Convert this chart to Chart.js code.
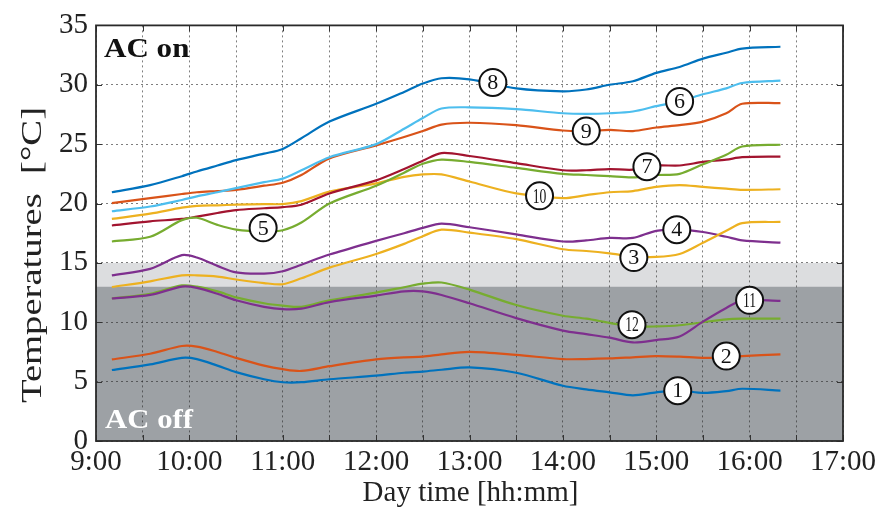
<!DOCTYPE html>
<html><head><meta charset="utf-8">
<script src="https://cdn.jsdelivr.net/npm/chart.js@4/dist/chart.umd.min.js"></script>
<style>html,body{margin:0;padding:0;background:#fff;}canvas{display:block;}</style>
</head><body>
<canvas id="c" width="890" height="509"></canvas>
<script>
// Time of day in decimal hours
const times = [9.17, 9.58, 9.92, 10.08, 10.3, 10.5, 10.8, 11.0, 11.2, 11.5, 12.0, 12.3, 12.5, 12.7, 13.0, 13.5, 14.0, 14.25, 14.5, 14.75, 15.0, 15.25, 15.5, 15.75, 15.92, 16.33];
// Temperatures [°C] per sensor
const s1  = [5.98, 6.45, 7.0, 6.9, 6.35, 5.8, 5.2, 4.95, 4.95, 5.2, 5.5, 5.75, 5.85, 6.0, 6.2, 5.75, 4.65, 4.35, 4.1, 3.85, 4.1, 4.25, 4.05, 4.2, 4.4, 4.25];
const s2  = [6.87, 7.35, 8.0, 7.95, 7.5, 7.0, 6.35, 6.05, 5.9, 6.3, 6.87, 7.05, 7.1, 7.3, 7.5, 7.25, 6.9, 6.9, 6.95, 7.05, 7.15, 7.1, 7.0, 7.05, 7.15, 7.3];
const s3  = [12.97, 13.45, 13.95, 13.95, 13.85, 13.6, 13.3, 13.2, 13.7, 14.6, 15.75, 16.6, 17.25, 17.8, 17.55, 17.0, 16.15, 16.0, 15.8, 15.55, 15.5, 15.75, 16.7, 17.7, 18.35, 18.45];
const s4  = [13.95, 14.5, 15.65, 15.45, 14.75, 14.2, 14.1, 14.3, 14.85, 15.7, 16.85, 17.5, 17.95, 18.3, 18.0, 17.4, 16.8, 16.9, 17.1, 17.1, 17.7, 17.8, 17.6, 17.2, 16.9, 16.7];
const s5  = [16.8, 17.2, 18.6, 18.8, 18.2, 17.8, 17.65, 17.75, 18.4, 20.0, 21.5, 22.6, 23.35, 23.7, 23.5, 23.0, 22.5, 22.4, 22.3, 22.2, 22.4, 22.5, 23.3, 24.1, 24.8, 24.95];
const s6  = [19.35, 19.75, 20.3, 20.6, 20.95, 21.3, 21.8, 22.1, 22.8, 23.9, 25.0, 26.3, 27.2, 28.0, 28.1, 27.95, 27.6, 27.55, 27.6, 27.75, 28.2, 28.6, 29.2, 29.7, 30.15, 30.35];
const s7  = [18.15, 18.5, 18.7, 18.9, 19.2, 19.45, 19.6, 19.7, 19.9, 20.85, 21.95, 22.9, 23.6, 24.25, 24.0, 23.4, 22.8, 22.8, 22.9, 22.85, 23.2, 23.2, 23.5, 23.7, 23.9, 23.95];
const s8  = [20.95, 21.55, 22.3, 22.7, 23.2, 23.65, 24.2, 24.6, 25.5, 26.9, 28.4, 29.4, 30.1, 30.55, 30.45, 29.7, 29.45, 29.6, 30.0, 30.3, 31.0, 31.5, 32.2, 32.7, 33.05, 33.2];
const s9  = [20.03, 20.45, 20.8, 20.95, 21.05, 21.15, 21.5, 21.75, 22.4, 23.8, 24.9, 25.6, 26.1, 26.65, 26.8, 26.6, 26.15, 26.1, 26.2, 26.1, 26.4, 26.6, 26.9, 27.6, 28.4, 28.45];
const s10 = [18.7, 19.15, 19.65, 19.8, 19.85, 19.9, 19.95, 19.95, 20.2, 21.0, 21.7, 22.25, 22.45, 22.45, 21.85, 20.85, 20.45, 20.7, 20.95, 21.05, 21.4, 21.55, 21.4, 21.25, 21.15, 21.2];
const s11 = [12.0, 12.3, 13.0, 12.9, 12.4, 11.85, 11.3, 11.1, 11.15, 11.7, 12.25, 12.6, 12.6, 12.3, 11.6, 10.35, 9.3, 9.0, 8.7, 8.3, 8.5, 8.8, 10.05, 11.2, 11.85, 11.8];
const s12 = [12.0, 12.4, 13.1, 13.0, 12.6, 12.1, 11.6, 11.4, 11.3, 11.85, 12.5, 12.95, 13.25, 13.35, 12.75, 11.45, 10.55, 10.3, 9.95, 9.65, 9.65, 9.75, 10.0, 10.25, 10.3, 10.3];
const seriesValues = [s1, s2, s3, s4, s5, s6, s7, s8, s9, s10, s11, s12];
// Circled sensor labels: number, time, temperature
const labelNums = ['8', '6', '9', '7', '10', '5', '4', '3', '11', '12', '2', '1'];
const labelTimes = [13.25, 15.25, 14.25, 14.9, 13.75, 10.79, 15.22, 14.76, 16.0, 14.74, 15.75, 15.23];
const labelTemps = [30.2, 28.6, 26.1, 23.1, 20.65, 17.95, 17.8, 15.45, 11.85, 9.8, 7.15, 4.24];
// Bands: AC off below 13 °C, transition up to 15 °C
const bandLimits = [0, 13, 15];
// Axis ranges
const xRange = [9, 17];
const yRange = [0, 35];

const colors = ['#0072BD', '#D95319', '#EDB120', '#7E2F8E', '#77AC30', '#4DBEEE', '#A2142F', '#0072BD', '#D95319', '#EDB120', '#7E2F8E', '#77AC30'];
const SERIF = "'Liberation Serif', 'Times New Roman', serif";

const decor = {
  id: 'decor',
  beforeDraw(chart) {
    const {ctx, chartArea: a, scales: {y}} = chart;
    const y0 = y.getPixelForValue(bandLimits[0]);
    const y1 = y.getPixelForValue(bandLimits[1]);
    const y2 = y.getPixelForValue(bandLimits[2]);
    ctx.save();
    ctx.fillStyle = '#dcdddf';
    ctx.fillRect(a.left, y2, a.right - a.left, y1 - y2);
    ctx.fillStyle = '#9da1a5';
    ctx.fillRect(a.left, y1, a.right - a.left, y0 - y1);
    ctx.restore();
  },
  afterDatasetsDraw(chart) {
    const {ctx, scales: {x, y}} = chart;
    ctx.save();
    labelNums.forEach((n, i) => {
      const px = x.getPixelForValue(labelTimes[i]);
      const py = y.getPixelForValue(labelTemps[i]);
      ctx.beginPath();
      ctx.arc(px, py, 13.5, 0, Math.PI * 2);
      ctx.fillStyle = '#fff';
      ctx.fill();
      ctx.lineWidth = 2;
      ctx.strokeStyle = '#111';
      ctx.stroke();
      ctx.fillStyle = '#111';
      ctx.font = '22px ' + SERIF;
      ctx.textAlign = 'center';
      ctx.textBaseline = 'middle';
      ctx.save();
      ctx.translate(px, py + 1);
      if (n.length > 1) ctx.scale(0.62, 1);
      ctx.fillText(n, 0, 0);
      ctx.restore();
    });
    ctx.restore();
  },
  afterDraw(chart) {
    const {ctx, chartArea: a, scales: {x, y}} = chart;
    ctx.save();
    // inner ticks
    ctx.strokeStyle = '#333';
    ctx.lineWidth = 1;
    y.ticks.forEach(t => {
      const py = Math.round(y.getPixelForValue(t.value)) + 0.5;
      ctx.beginPath();
      ctx.moveTo(a.left, py); ctx.lineTo(a.left + 6, py);
      ctx.moveTo(a.right, py); ctx.lineTo(a.right - 6, py);
      ctx.stroke();
    });
    x.ticks.forEach(t => {
      const px = Math.round(x.getPixelForValue(t.value)) + 0.5;
      ctx.beginPath();
      ctx.moveTo(px, a.bottom); ctx.lineTo(px, a.bottom - 6);
      ctx.moveTo(px, a.top); ctx.lineTo(px, a.top + 6);
      ctx.stroke();
    });
    // frame
    ctx.strokeStyle = '#2a2a2a';
    ctx.lineWidth = 1.8;
    ctx.strokeRect(a.left, a.top, a.right - a.left, a.bottom - a.top);
    // AC texts
    ctx.font = 'bold 27px ' + SERIF;
    ctx.textAlign = 'left';
    ctx.textBaseline = 'alphabetic';
    ctx.save();
    ctx.translate(a.left + 8, a.top + 32);
    ctx.scale(1.15, 1);
    ctx.fillStyle = '#111';
    ctx.fillText('AC on', 0, 0);
    ctx.restore();
    ctx.save();
    ctx.translate(a.left + 9, a.bottom - 13);
    ctx.scale(1.14, 1);
    ctx.fillStyle = '#fff';
    ctx.fillText('AC off', 0, 0);
    ctx.restore();
    // axis titles
    ctx.fillStyle = '#222';
    ctx.font = '29px ' + SERIF;
    ctx.textAlign = 'center';
    ctx.textBaseline = 'middle';
    ctx.fillText('Day time [hh:mm]', (a.left + a.right) / 2 + 1, 493);
    const yt = 'Temperatures  [°C]';
    const w = ctx.measureText(yt).width;
    ctx.translate(33, 255);
    ctx.rotate(-Math.PI / 2);
    ctx.scale(296 / w, 1);
    ctx.fillText(yt, 0, 0);
    ctx.restore();
  }
};

new Chart(document.getElementById('c'), {
  type: 'line',
  data: {
    datasets: seriesValues.map((s, i) => ({
      label: 'Sensor ' + (i + 1),
      data: times.map((t, j) => ({x: t, y: s[j]})),
      borderColor: colors[i],
      borderWidth: 2.2,
      pointRadius: 0,
      tension: 0.3,
      fill: false
    }))
  },
  options: {
    responsive: false,
    animation: false,
    devicePixelRatio: 1,
    layout: {padding: {top: 20, right: 47, left: 0, bottom: 0}},
    plugins: {legend: {display: false}, tooltip: {enabled: false}},
    scales: {
      x: {
        type: 'linear', min: xRange[0], max: xRange[1],
        afterFit(s) { s.height = 68; },
        ticks: {
          stepSize: 0.5, autoSkip: false, maxRotation: 0, padding: 4,
          color: '#222', font: {family: SERIF, size: 29},
          callback: v => (v % 1 === 0 ? v + ':00' : '')
        },
        grid: {color: 'rgba(40,40,40,0.6)', lineWidth: 1, drawTicks: false},
        border: {display: false, dash: [2, 3]}
      },
      y: {
        min: yRange[0], max: yRange[1],
        afterFit(s) { s.width = 96; },
        ticks: {stepSize: 5, padding: 8, color: '#222', font: {family: SERIF, size: 29}},
        grid: {color: 'rgba(40,40,40,0.6)', lineWidth: 1, drawTicks: false},
        border: {display: false, dash: [2, 3]}
      }
    }
  },
  plugins: [decor]
});
</script>
</body></html>
